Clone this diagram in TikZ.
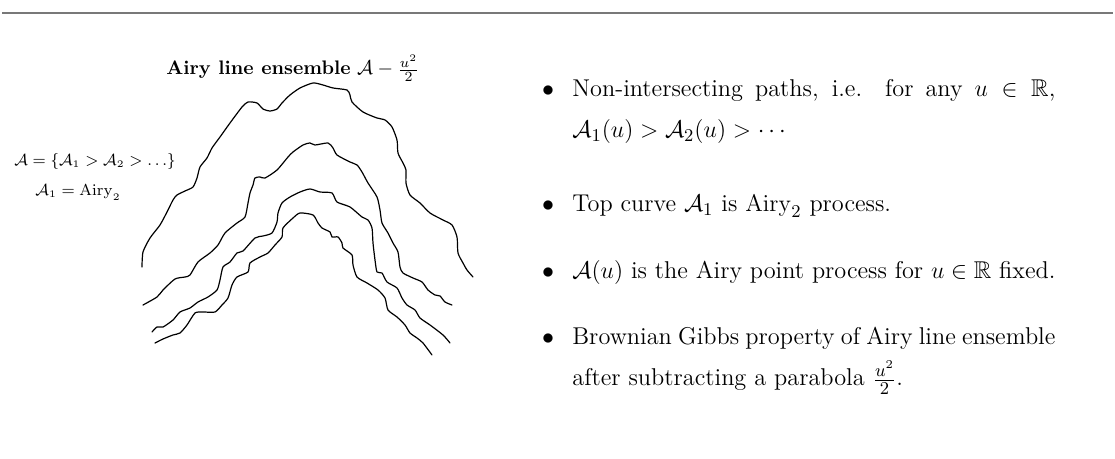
\documentclass[tikz,border=0pt]{standalone}
\usepackage{amsmath}
\usepackage{amssymb}
\usepackage{xcolor}
\usepackage{tikz}
\usetikzlibrary{positioning, calc}
\definecolor{rulegray}{RGB}{120,120,120}

\begin{document}
\begin{tikzpicture}[
    x=0.5pt, y=-0.5pt,
    path/.style={draw, line width=0.6pt, line join=round, line cap=round},
    ttl/.style={font=\fontsize{9.8}{11}\selectfont, anchor=base, inner sep=0pt},
    lbl/.style={font=\fontsize{7.7}{10}\selectfont, anchor=base, inner sep=0pt},
    item/.style={font=\fontsize{12.15}{20.5}\selectfont, text width=241.5pt, align=justify, anchor=base west, inner sep=0pt},
    dot/.style={font=\fontsize{12}{13}\selectfont, anchor=base, inner sep=0pt}
  ]
  \useasboundingbox (0,0) rectangle (1115,459);
  \draw[rulegray, line width=1pt] (2,13) -- (1113,13);

  % the four paths, top to bottom
  \draw[path] plot[smooth, tension=0.4] coordinates {(142,267) (143,252) (150,238) (160,225) (167,212) (173,200) (177,195) (185,191) (193,187) (197,178) (200,167) (207,158) (212,148) (220,137) (230,123) (242,107) (248,102) (257,103) (263,109) (270,111) (277,109) (282,103) (290,95) (300,88) (313,83) (323,85) (333,88) (347,90) (350,95) (352,102) (363,112) (377,118) (385,120) (392,127) (397,140) (398,153) (403,163) (406,170) (406,183) (410,195) (420,203) (430,213) (443,220) (452,225) (457,237) (458,253) (463,263) (467,270) (473,277)};
  \draw[path] plot[smooth, tension=0.4] coordinates {(143,305) (157,297) (163,290) (175,279) (185,277) (190,275) (198,262) (210,253) (218,245) (225,233) (237,223) (245,217) (248,203) (250,193) (253,185) (255,178) (260,177) (265,178) (277,170) (288,157) (293,152) (303,145) (310,143) (315,145) (328,143) (333,148) (337,155) (350,162) (357,165) (362,172) (368,183) (377,197) (380,210) (382,223) (388,233) (393,243) (398,252) (400,267) (403,273) (413,278) (422,282) (428,290) (435,295) (440,296) (445,302) (452,305)};
  \draw[path] plot[smooth, tension=0.4] coordinates {(152,332) (157,327) (163,327) (173,320) (180,312) (190,308) (198,302) (208,297) (217,290) (220,280) (223,267) (230,262) (237,253) (243,251) (255,238) (263,236) (272,233) (277,222) (278,213) (282,203) (290,197) (300,192) (310,189) (320,192) (332,193) (337,202) (350,207) (362,217) (368,220) (372,228) (373,243) (375,260) (377,272) (382,273) (387,282) (397,288) (402,298) (407,305) (415,310) (420,318) (430,325) (443,335) (450,343)};
  \draw[path] plot[smooth, tension=0.4] coordinates {(155,343) (163,339) (173,335) (180,333) (187,325) (195,313) (203,312) (215,312) (222,305) (228,298) (232,285) (237,277) (248,272) (250,263) (260,257) (268,253) (275,245) (282,237) (283,228) (293,218) (300,213) (313,215) (318,223) (322,228) (330,232) (332,237) (338,237) (342,243) (343,248) (352,255) (353,265) (357,277) (367,283) (378,290) (385,298) (388,310) (397,317) (405,325) (410,333) (417,338) (423,343) (432,355)};

  \node[ttl] (title) at (293,75) {\textbf{Airy line ensemble} $\mathcal{A}-\frac{u^2}{2}$};
  \node[lbl] (setlbl) at (95,166) {$\mathcal{A}=\{\mathcal{A}_1>\mathcal{A}_2>\ldots\}$};
  \node[lbl] (toplbl) at (78,196) {$\mathcal{A}_1=\mathrm{Airy}_2$};

  % bullet list
  \node[item] (nonint) at (572,97) {Non-intersecting paths, i.e. for any $u\in\mathbb{R}$, \mbox{$\mathcal{A}_1(u)>\mathcal{A}_2(u)>\cdots$}};
  \node[item] (topcurve) at (572,212) {Top curve $\mathcal{A}_1$ is $\mathrm{Airy}_2$ process.};
  \node[item] (pointproc) at (572,279) {$\mathcal{A}(u)$ is the Airy point process for $u\in\mathbb{R}$ fixed.};
  \node[item] (gibbs) at (572,345) {Brownian Gibbs property of Airy line ensemble after subtracting a parabola $\frac{u^2}{2}$.};
  \node[dot] (d1) at (548,97) {$\bullet$};
  \node[dot] (d2) at (548,212) {$\bullet$};
  \node[dot] (d3) at (548,279) {$\bullet$};
  \node[dot] (d4) at (548,345) {$\bullet$};
\end{tikzpicture}
\end{document}
